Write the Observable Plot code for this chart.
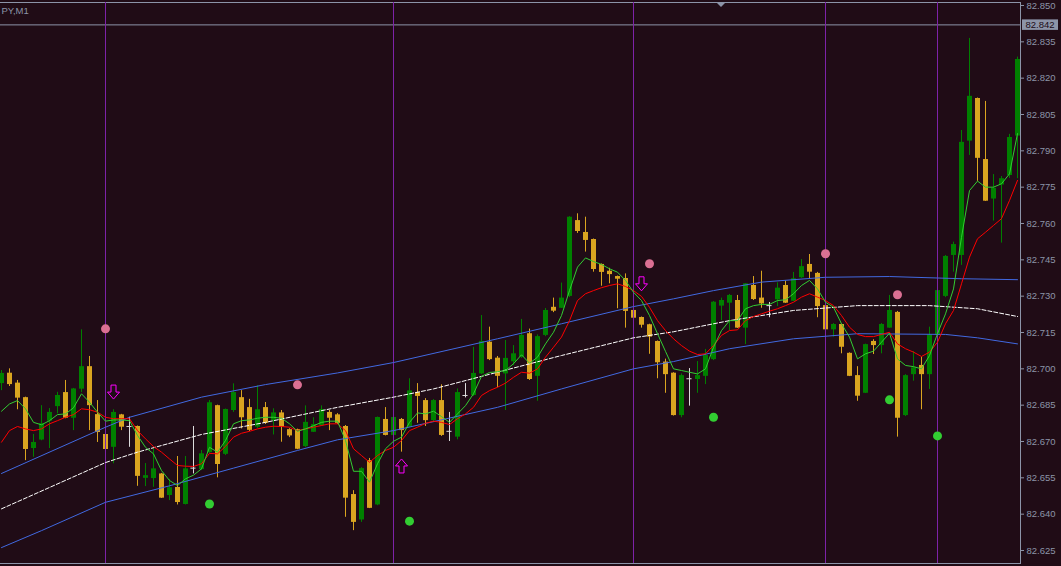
<!DOCTYPE html>
<html><head><meta charset="utf-8">
<script src="https://cdn.jsdelivr.net/npm/d3@7"></script>
<script src="https://cdn.jsdelivr.net/npm/@observablehq/plot@0.6"></script>
<style>
html,body{margin:0;padding:0;background:#200c16;overflow:hidden;}
#chart{position:relative;width:1061px;height:566px;overflow:hidden;}
#chart svg{overflow:hidden;display:block;}
</style></head><body><div id="chart"></div>
<script>
const symbolLabel = "PY,M1";
const currentPrice = 82.842;
const priceTicks = [82.625,82.640,82.655,82.670,82.685,82.700,82.715,82.730,82.745,82.760,82.775,82.790,82.805,82.820,82.835,82.850];

const open = [82.6939,82.6982,82.6941,82.6881,82.6671,82.6706,82.6784,82.6844,82.6902,82.6796,82.6916,82.7009,82.6811,82.6729,82.6676,82.6810,82.6762,82.6762,82.6548,82.6547,82.6566,82.6477,82.6510,82.6440,82.6590,82.6584,82.6654,82.6848,82.6647,82.6828,82.6881,82.6840,82.6759,82.6840,82.6786,82.6818,82.6749,82.6749,82.6679,82.6738,82.6766,82.6820,82.6810,82.6762,82.6481,82.6376,82.6621,82.6438,82.6791,82.6725,82.6791,82.6759,82.6902,82.6869,82.6786,82.6869,82.6742,82.6718,82.6890,82.6890,82.6979,82.7110,82.7044,82.6979,82.7029,82.7048,82.7145,82.6969,82.7138,82.7254,82.7250,82.7299,82.7612,82.7563,82.7534,82.7431,82.7403,82.7381,82.7373,82.7241,82.7212,82.7182,82.7113,82.7028,82.6982,82.6807,82.6959,82.6956,82.6969,82.7038,82.7259,82.7271,82.7282,82.7168,82.7344,82.7292,82.7261,82.7285,82.7344,82.7279,82.7376,82.7431,82.7394,82.7261,82.7161,82.7183,82.7064,82.6972,82.6899,82.7113,82.7096,82.7168,82.7233,82.6807,82.6976,82.7014,82.6976,82.7138,82.7299,82.7468,82.7468,82.7940,82.8116,82.7864,82.7701,82.7759,82.7798,82.7961];
const high = [82.6993,82.7000,82.6952,82.6883,82.6729,82.6848,82.6836,82.6903,82.6952,82.6919,82.7161,82.7051,82.6869,82.6732,82.6831,82.6812,82.6800,82.6764,82.6609,82.6670,82.6568,82.6543,82.6638,82.6638,82.6762,82.6663,82.6869,82.6850,82.6834,82.6938,82.6910,82.6874,82.6930,82.6861,82.6835,82.6828,82.6753,82.6751,82.6847,82.6798,82.6847,82.6828,82.6815,82.6766,82.6497,82.6592,82.6630,82.6801,82.6840,82.6803,82.6795,82.6959,82.6939,82.6877,82.6873,82.6934,82.6820,82.6917,82.6939,82.7089,82.7220,82.7172,82.7051,82.7117,82.7096,82.7204,82.7164,82.7140,82.7249,82.7292,82.7354,82.7628,82.7640,82.7626,82.7536,82.7433,82.7415,82.7383,82.7392,82.7243,82.7214,82.7184,82.7115,82.7040,82.6984,82.6979,82.7001,82.7030,82.7080,82.7278,82.7292,82.7307,82.7303,82.7352,82.7381,82.7403,82.7274,82.7355,82.7362,82.7398,82.7451,82.7472,82.7398,82.7263,82.7187,82.7185,82.7066,82.7009,82.7102,82.7120,82.7187,82.7303,82.7237,82.6976,82.7071,82.7048,82.7172,82.7328,82.7468,82.7523,82.7984,82.8364,82.8118,82.8104,82.7802,82.7794,82.7968,82.8287];
const low = [82.6910,82.6927,82.6831,82.6621,82.6635,82.6703,82.6671,82.6814,82.6794,82.6745,82.6902,82.6745,82.6696,82.6664,82.6608,82.6745,82.6676,82.6515,82.6514,82.6511,82.6465,82.6456,82.6438,82.6438,82.6566,82.6580,82.6650,82.6550,82.6642,82.6820,82.6752,82.6741,82.6753,82.6770,82.6727,82.6697,82.6716,82.6666,82.6675,82.6737,82.6762,82.6745,82.6770,82.6387,82.6332,82.6366,82.6423,82.6435,82.6723,82.6721,82.6656,82.6758,82.6775,82.6762,82.6782,82.6721,82.6700,82.6707,82.6880,82.6886,82.6976,82.7034,82.6922,82.6828,82.7014,82.7043,82.6952,82.6866,82.7133,82.7232,82.7249,82.7294,82.7559,82.7482,82.7399,82.7341,82.7351,82.7248,82.7168,82.7208,82.7168,82.7060,82.6959,82.6899,82.6805,82.6798,82.6846,82.6899,82.6935,82.7034,82.7199,82.7158,82.7167,82.7100,82.7282,82.7250,82.7211,82.7257,82.7270,82.7278,82.7373,82.7372,82.7211,82.7158,82.7131,82.7062,82.6968,82.6866,82.6898,82.7059,82.7062,82.7167,82.6718,82.6803,82.6949,82.6831,82.6915,82.7133,82.7294,82.7399,82.7427,82.7881,82.7774,82.7691,82.7610,82.7519,82.7786,82.7785];
const close = [82.6981,82.6935,82.6879,82.6667,82.6696,82.6773,82.6820,82.6890,82.6796,82.6917,82.7009,82.6848,82.6737,82.6667,82.6820,82.6759,82.6762,82.6556,82.6559,82.6587,82.6466,82.6509,82.6448,82.6587,82.6590,82.6649,82.6860,82.6605,82.6832,82.6902,82.6798,82.6746,82.6831,82.6775,82.6818,82.6759,82.6723,82.6668,82.6779,82.6770,82.6832,82.6796,82.6775,82.6466,82.6366,82.6588,82.6424,82.6799,82.6725,82.6799,82.6745,82.6909,82.6886,82.6786,82.6869,82.6725,82.6742,82.6902,82.6890,82.6981,82.7113,82.7038,82.6969,82.7043,82.7062,82.7138,82.6956,82.7133,82.7241,82.7238,82.7292,82.7626,82.7567,82.7530,82.7410,82.7398,82.7389,82.7370,82.7237,82.7209,82.7180,82.7131,82.7025,82.6976,82.6807,82.6972,82.6959,82.6972,82.7055,82.7275,82.7282,82.7303,82.7168,82.7351,82.7286,82.7268,82.7261,82.7333,82.7271,82.7372,82.7422,82.7399,82.7257,82.7161,82.7183,82.7089,82.6969,82.6887,82.7100,82.7096,82.7183,82.7241,82.6796,82.6972,82.7004,82.6976,82.7140,82.7323,82.7464,82.7513,82.7935,82.8125,82.7869,82.7692,82.7745,82.7785,82.7955,82.8277];

const maFast = [82.6825,82.6855,82.6869,82.6835,82.6779,82.6769,82.6786,82.6811,82.6814,82.6839,82.6897,82.6862,82.6821,82.6784,82.6789,82.6789,82.6786,82.6725,82.6676,82.6649,82.6580,82.6539,82.6518,82.6546,82.6561,82.6587,82.6676,82.6656,82.6704,82.6773,82.6786,82.6789,82.6796,82.6800,82.6800,82.6796,82.6773,82.6742,82.6752,82.6765,82.6779,82.6784,82.6784,82.6704,82.6577,82.6577,82.6532,82.6608,82.6670,82.6701,82.6718,82.6779,82.6818,82.6814,82.6825,82.6803,82.6779,82.6814,82.6848,82.6897,82.6969,82.6985,82.6988,82.6993,82.7021,82.7058,82.7023,82.7048,82.7103,82.7151,82.7220,82.7323,82.7420,82.7458,82.7443,82.7431,82.7413,82.7399,82.7365,82.7316,82.7282,82.7220,82.7145,82.7072,82.7000,82.6993,82.6986,82.6979,82.7000,82.7089,82.7158,82.7199,82.7199,82.7248,82.7261,82.7266,82.7266,82.7282,82.7285,82.7310,82.7344,82.7365,82.7330,82.7275,82.7254,82.7186,82.7131,82.7041,82.7062,82.7073,82.7110,82.7147,82.7041,82.7014,82.7009,82.7000,82.7055,82.7145,82.7227,82.7330,82.7543,82.7736,82.7775,82.7750,82.7750,82.7764,82.7805,82.7971];
const maSlow = [82.6697,82.6745,82.6762,82.6752,82.6745,82.6752,82.6773,82.6786,82.6800,82.6811,82.6835,82.6831,82.6821,82.6800,82.6794,82.6794,82.6794,82.6745,82.6711,82.6679,82.6656,82.6628,82.6601,82.6598,82.6597,82.6608,82.6651,82.6649,82.6680,82.6718,82.6734,82.6742,82.6752,82.6759,82.6763,82.6762,82.6759,82.6745,82.6752,82.6759,82.6766,82.6773,82.6773,82.6745,82.6670,82.6642,82.6614,82.6642,82.6663,82.6676,82.6704,82.6745,82.6759,82.6775,82.6784,82.6779,82.6770,82.6794,82.6814,82.6841,82.6890,82.6910,82.6924,82.6941,82.6965,82.6986,82.6982,82.7000,82.7048,82.7089,82.7131,82.7199,82.7282,82.7310,82.7323,82.7335,82.7344,82.7351,82.7340,82.7323,82.7299,82.7254,82.7199,82.7158,82.7124,82.7096,82.7073,82.7059,82.7062,82.7096,82.7138,82.7158,82.7161,82.7199,82.7216,82.7227,82.7238,82.7248,82.7261,82.7275,82.7296,82.7310,82.7296,82.7282,82.7261,82.7220,82.7172,82.7142,82.7133,82.7133,82.7142,82.7151,82.7103,82.7083,82.7069,82.7051,82.7069,82.7110,82.7186,82.7241,82.7351,82.7461,82.7537,82.7564,82.7592,82.7620,82.7695,82.7778];

const upperIdx = [0,13,16,25,33,42,49,62,70,79,84,89,95,103,111,120,127];
const upperBand = [82.6568,82.6759,82.6800,82.6883,82.6935,82.6983,82.7026,82.7124,82.7186,82.7257,82.7289,82.7323,82.7358,82.7378,82.7381,82.7372,82.7368];
const middleIdx = [0,13,17,25,33,42,49,54,62,70,79,84,91,99,107,116,122,127];
const middleBand = [82.6422,82.6613,82.6656,82.6729,82.6779,82.6841,82.6883,82.6917,82.6986,82.7055,82.7128,82.7153,82.7199,82.7241,82.7261,82.7261,82.7248,82.7216];
const lowerIdx = [0,5,13,21,29,37,42,49,62,70,79,84,91,99,107,118,122,127];
const lowerBand = [82.6262,82.6332,82.6449,82.6517,82.6590,82.6663,82.6707,82.6745,82.6841,82.6917,82.7000,82.7030,82.7083,82.7124,82.7145,82.7142,82.7128,82.7103];

const sellDotIdx = [13,37,81,103,112];
const sellDotPrice = [82.7165,82.6934,82.7434,82.7475,82.7306];
const buyDotIdx = [26,51,89,111,117];
const buyDotPrice = [82.6442,82.6371,82.6800,82.6872,82.6723];
const downArrowIdx = [14,80];
const downArrowPrice = [82.6904,82.7351];
const upArrowIdx = [50];
const upArrowPrice = [82.6599];
const separatorIdx = [13,49,79,103,117];
const shiftIdx = 90;

const BG = "#200c16", AXIS = "#8c94a8";
const FONT = "'Liberation Sans', Arial, sans-serif";
const candles = open.map((o, i) => ({i, open: o, high: high[i], low: low[i], close: close[i]}));
const colorOf = d => d.close > d.open ? "#008000" : d.close < d.open ? "#daa520" : "#dcdcdc";
const bodies = candles.filter(d => d.open !== d.close);
const dojis = candles.filter(d => d.open === d.close);
const pts = (ix, vs) => ix.map((i, k) => ({i, v: vs[k]}));

const downArrow = {draw(c){c.moveTo(-2.5,-7);c.lineTo(2.5,-7);c.lineTo(2.5,0);c.lineTo(6,0);c.lineTo(0,7);c.lineTo(-6,0);c.lineTo(-2.5,0);c.closePath();}};
const upArrow = {draw(c){c.moveTo(-2.5,7);c.lineTo(2.5,7);c.lineTo(2.5,0);c.lineTo(6,0);c.lineTo(0,-7);c.lineTo(-6,0);c.lineTo(-2.5,0);c.closePath();}};

const plot = Plot.plot({
  width: 1061, height: 566,
  marginLeft: 0, marginRight: 41, marginTop: 2, marginBottom: 3,
  style: {background: BG, color: AXIS, fontFamily: FONT, fontSize: "9.5px", overflow: "hidden"},
  x: {domain: [-0.125, 127.375], axis: null},
  y: {domain: [82.61963, 82.85124], axis: null},
  marks: [
    Plot.frame({anchor: "top", stroke: AXIS}),
    Plot.frame({anchor: "right", stroke: AXIS}),
    Plot.frame({anchor: "bottom", stroke: AXIS}),
    Plot.axisY(priceTicks, {anchor: "right", tickSize: 3, tickPadding: 3, tickFormat: d3.format(".3f"), stroke: AXIS, fill: AXIS, label: null}),
    Plot.ruleY([currentPrice], {stroke: AXIS, strokeWidth: 1}),
    Plot.ruleX(candles, {x: "i", y1: "low", y2: "high", stroke: colorOf, strokeWidth: 1}),
    Plot.ruleX(bodies, {x: "i", y1: "open", y2: "close", stroke: colorOf, strokeWidth: 5}),
    Plot.ruleY(dojis, {y: "open", x1: d => d.i - 0.32, x2: d => d.i + 0.32, stroke: colorOf, strokeWidth: 1}),
    Plot.ruleX(separatorIdx, {x: d => d, stroke: "#7d22a8", strokeWidth: 1}),
    Plot.line(pts(upperIdx, upperBand), {x: "i", y: "v", stroke: "#4169e1", strokeWidth: 1}),
    Plot.line(pts(lowerIdx, lowerBand), {x: "i", y: "v", stroke: "#4169e1", strokeWidth: 1}),
    Plot.line(pts(middleIdx, middleBand), {x: "i", y: "v", stroke: "#ffffff", strokeWidth: 1, strokeDasharray: "4,2"}),
    Plot.line(maSlow.map((v, i) => ({i, v})), {x: "i", y: "v", stroke: "#ff0000", strokeWidth: 1}),
    Plot.line(maFast.map((v, i) => ({i, v})), {x: "i", y: "v", stroke: "#32cd32", strokeWidth: 1}),
    Plot.dot(pts(sellDotIdx, sellDotPrice), {x: "i", y: "v", r: 4.5, fill: "#db7093", stroke: null}),
    Plot.dot(pts(buyDotIdx, buyDotPrice), {x: "i", y: "v", r: 4.5, fill: "#32cd32", stroke: null}),
    Plot.dot(pts(downArrowIdx, downArrowPrice), {x: "i", y: "v", r: 7, symbol: downArrow, stroke: "#ff00ff", fill: "none", strokeWidth: 1}),
    Plot.dot(pts(upArrowIdx, upArrowPrice), {x: "i", y: "v", r: 7, symbol: upArrow, stroke: "#ff00ff", fill: "none", strokeWidth: 1})
  ]
});

const svg = d3.select(plot);
const ys = plot.scale("y"), xs = plot.scale("x");
const cy = ys.apply(currentPrice);
svg.append("rect").attr("x", 1022).attr("y", cy - 5).attr("width", 36).attr("height", 10.5).attr("fill", AXIS);
svg.append("text").attr("x", 1040).attr("y", cy + 3.5).attr("text-anchor", "middle").attr("fill", BG)
  .attr("font-size", "9.5px").attr("font-family", FONT).text(d3.format(".3f")(currentPrice));
svg.append("text").attr("x", 1.5).attr("y", 14).attr("text-anchor", "start").attr("fill", AXIS)
  .attr("font-size", "9.5px").attr("font-family", FONT).text(symbolLabel);
const sx = xs.apply(shiftIdx);
svg.append("path").attr("d", `M${sx - 5},2L${sx + 5},2L${sx},7Z`).attr("fill", AXIS);

document.getElementById("chart").appendChild(plot);
</script></body></html>
